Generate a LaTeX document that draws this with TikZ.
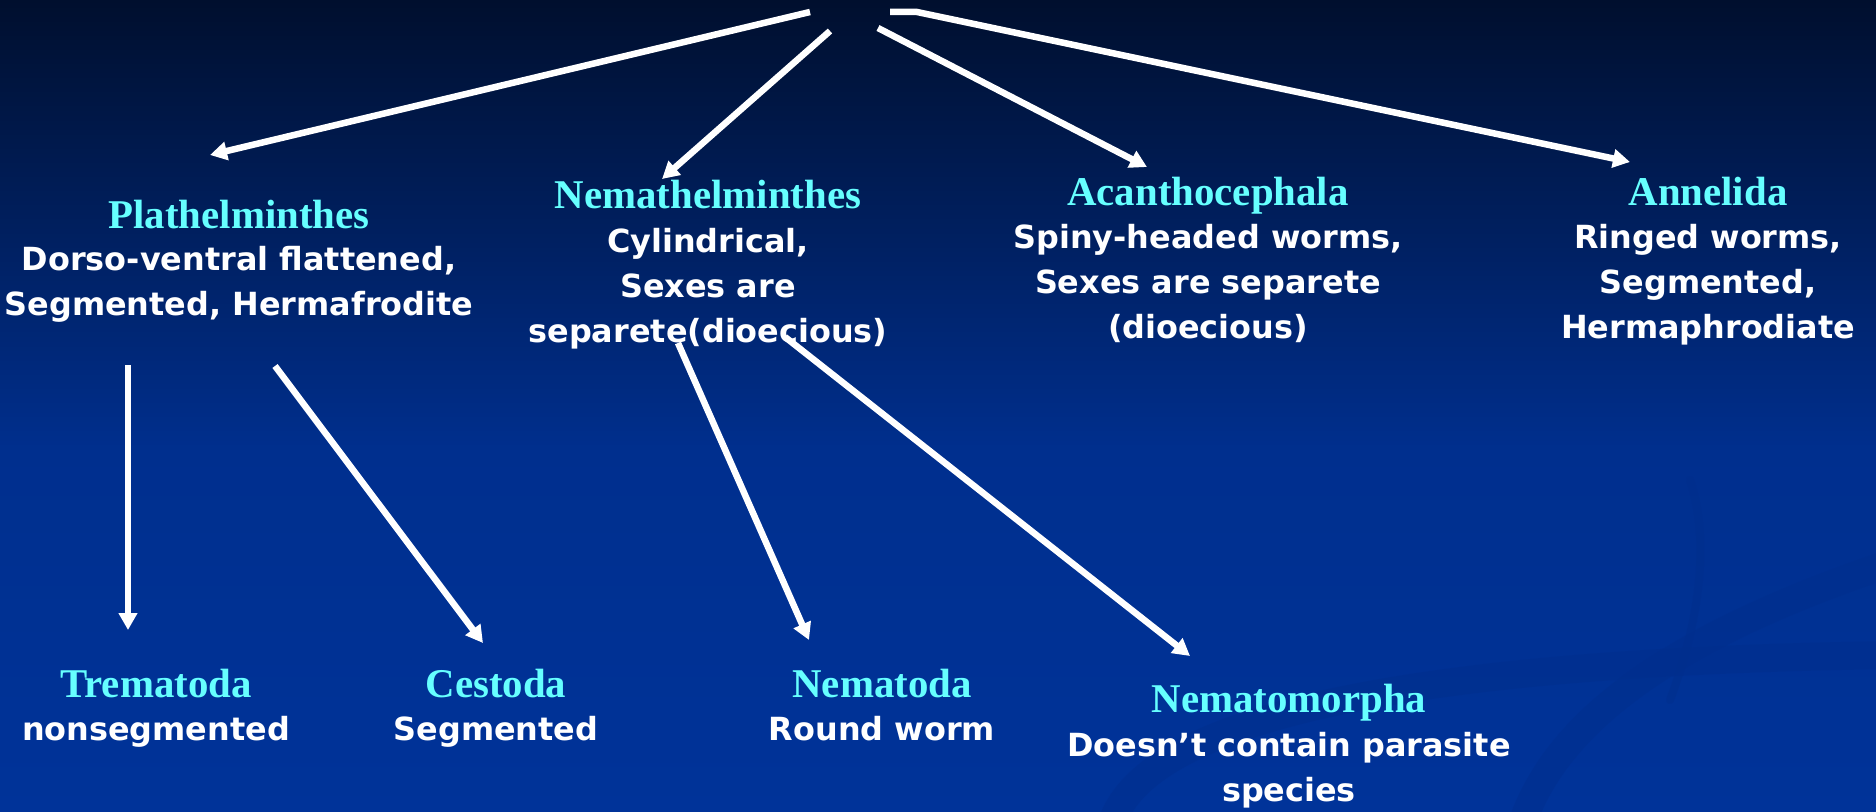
\documentclass[tikz,border=0pt]{standalone}
\usepackage{fontspec}
\usetikzlibrary{arrows.meta}
\newfontfamily\headfont{Liberation Serif}
\newfontfamily\bodyfont{DejaVu Sans}
\definecolor{cyanhead}{HTML}{66FFFF}
\definecolor{bgtop}{HTML}{000F2E}
\definecolor{bgmid}{HTML}{002F8E}
\definecolor{bgbot}{HTML}{003399}
\definecolor{swirl}{HTML}{002E8C}
\begin{document}
\begin{tikzpicture}[x=1bp,y=-1bp,
  head/.style={anchor=base, inner sep=0pt, text=cyanhead, font=\headfont\bfseries\fontsize{41}{41}\selectfont},
  body/.style={anchor=base, inner sep=0pt, text=white, align=center, font=\bodyfont\bfseries\fontsize{32}{45}\selectfont},
  link/.style={draw=white, line width=6.5bp, -{Triangle[length=17bp,width=18bp]}}]
\useasboundingbox (0,0) rectangle (1876,812);
% background
\shade[top color=bgtop, bottom color=bgmid] (0,0) rectangle (1876,452);
\shade[top color=bgmid, bottom color=bgbot] (0,450) rectangle (1876,812);
\begin{scope}[draw=swirl, opacity=0.45, line cap=round]
  \draw[line width=28bp] (1110,830) .. controls (1140,700) and (1500,660) .. (1900,655);
  \draw[line width=28bp] (1520,830) .. controls (1560,700) and (1720,620) .. (1900,560);
  \draw[line width=8bp] (1690,480) .. controls (1710,540) and (1700,620) .. (1670,700);
\end{scope}
% nodes (body nodes: base anchor = baseline of the last line)
\node[head] (plh) at (239,228) {Plathelminthes};
\node[body] (plb) at (239,315) {Dorso-ventral flattened,\\Segmented, Hermafrodite};
\node[head] (nmh) at (708,208) {Nemathelminthes};
\node[body] (nmb) at (708,342) {Cylindrical,\\Sexes are\\separete(dioecious)};
\node[head] (ach) at (1208,205) {Acanthocephala};
\node[body] (acb) at (1208,338) {Spiny-headed worms,\\Sexes are separete\\(dioecious)};
\node[head] (anh) at (1708,205) {Annelida};
\node[body] (anb) at (1708,338) {Ringed worms,\\Segmented,\\Hermaphrodiate};
\node[head] (trh) at (156,697) {Trematoda};
\node[body] (trb) at (156,740) {nonsegmented};
\node[head] (ceh) at (496,697) {Cestoda};
\node[body] (ceb) at (496,740) {Segmented};
\node[head] (neh) at (882,697) {Nematoda};
\node[body] (neb) at (882,740) {Round worm};
\node[head] (nmoh) at (1289,712) {Nematomorpha};
\node[body] (nmob) at (1289,801) {Doesn’t contain parasite\\species};
% connector end points
\coordinate (s1) at (810,12);  \coordinate (t1) at (210,155);
\coordinate (s2) at (830,31);  \coordinate (t2) at (662,179);
\coordinate (s3) at (878,28);  \coordinate (t3) at (1147,167);
\coordinate (s4) at (890,12);  \coordinate (k4) at (917,12); \coordinate (t4) at (1630,162);
\coordinate (s5) at (128,365); \coordinate (t5) at (128,630);
\coordinate (s6) at (275,366); \coordinate (t6) at (483,643);
\coordinate (s7) at (678,343); \coordinate (t7) at (809,640);
\coordinate (s8) at (785,337); \coordinate (t8) at (1190,656);
\draw[link] (s1) -- (t1);
\draw[link] (s2) -- (t2);
\draw[link] (s3) -- (t3);
\draw[link] (s4) -- (k4) -- (t4);
\draw[link] (s5) -- (t5);
\draw[link] (s6) -- (t6);
\draw[link] (s7) -- (t7);
\draw[link] (s8) -- (t8);
\end{tikzpicture}
\end{document}
